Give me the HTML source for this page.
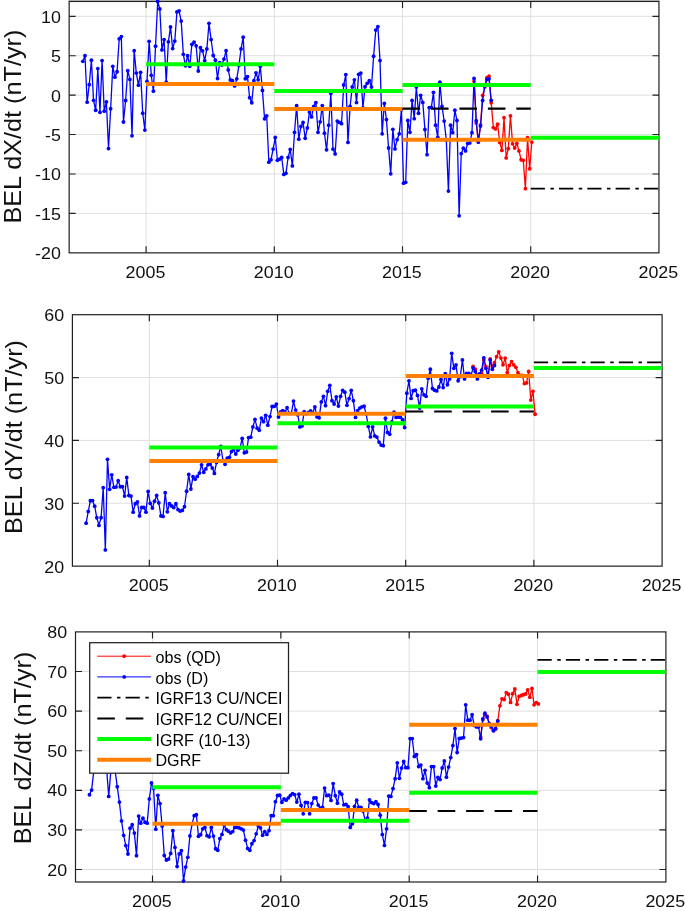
<!DOCTYPE html>
<html><head><meta charset="utf-8"><title>BEL secular variation</title>
<style>
html,body{margin:0;padding:0;background:#fff;}
svg{display:block;font-family:"Liberation Sans",sans-serif;will-change:transform;}
</style></head><body>
<svg width="685" height="911" viewBox="0 0 685 911">
<g id="panel1">
<line x1="146.08" y1="1.45" x2="146.08" y2="252.85" stroke="#dfdfdf" stroke-width="1"/>
<line x1="274.3" y1="1.45" x2="274.3" y2="252.85" stroke="#dfdfdf" stroke-width="1"/>
<line x1="402.52" y1="1.45" x2="402.52" y2="252.85" stroke="#dfdfdf" stroke-width="1"/>
<line x1="530.73" y1="1.45" x2="530.73" y2="252.85" stroke="#dfdfdf" stroke-width="1"/>
<line x1="69.15" y1="16.3" x2="658.95" y2="16.3" stroke="#dfdfdf" stroke-width="1"/>
<line x1="69.15" y1="55.71" x2="658.95" y2="55.71" stroke="#dfdfdf" stroke-width="1"/>
<line x1="69.15" y1="95.13" x2="658.95" y2="95.13" stroke="#dfdfdf" stroke-width="1"/>
<line x1="69.15" y1="134.54" x2="658.95" y2="134.54" stroke="#dfdfdf" stroke-width="1"/>
<line x1="69.15" y1="173.96" x2="658.95" y2="173.96" stroke="#dfdfdf" stroke-width="1"/>
<line x1="69.15" y1="213.38" x2="658.95" y2="213.38" stroke="#dfdfdf" stroke-width="1"/>
<rect x="68.45" y="0" width="591.2" height="1" fill="#c6c6c6"/>
<rect x="69.15" y="1.45" width="589.8" height="251.4" fill="none" stroke="#202020" stroke-width="1.2"/>
<path d="M146.08 252.85v-6.5M146.08 1.45v6.5M274.3 252.85v-6.5M274.3 1.45v6.5M402.52 252.85v-6.5M402.52 1.45v6.5M530.73 252.85v-6.5M530.73 1.45v6.5M69.15 16.3h6.5M658.95 16.3h-6.5M69.15 55.71h6.5M658.95 55.71h-6.5M69.15 95.13h6.5M658.95 95.13h-6.5M69.15 134.54h6.5M658.95 134.54h-6.5M69.15 173.96h6.5M658.95 173.96h-6.5M69.15 213.38h6.5M658.95 213.38h-6.5" stroke="#202020" stroke-width="1.15" fill="none"/>
<clipPath id="cp0"><rect x="66.95" y="-0.75" width="594.2" height="255.8"/></clipPath>
<g clip-path="url(#cp0)">
<polyline fill="none" stroke="#ff0000" stroke-width="1.3" stroke-linejoin="round" points="474.09,81.28 476.23,122.94 478.36,142 480.5,124.81 482.64,95.29 484.78,87.07 486.92,77.73 489.05,76.05 491.19,102.77 493.33,127.62 495.47,128.92 497.6,124.25 499.74,142.38 501.88,150.41 504.02,117.71 506.16,157.88 508.29,148.54 510.43,115.84 512.57,143.87 514.71,147.98 516.85,143.5 518.98,150.97 521.12,159.75 523.26,160.31 525.4,188.68 527.53,137.66 529.67,168.76 531.81,142.04"/>
<g fill="#ff0000"><circle cx="474.09" cy="81.28" r="1.9"/><circle cx="476.23" cy="122.94" r="1.9"/><circle cx="478.36" cy="142" r="1.9"/><circle cx="480.5" cy="124.81" r="1.9"/><circle cx="482.64" cy="95.29" r="1.9"/><circle cx="484.78" cy="87.07" r="1.9"/><circle cx="486.92" cy="77.73" r="1.9"/><circle cx="489.05" cy="76.05" r="1.9"/><circle cx="491.19" cy="102.77" r="1.9"/><circle cx="493.33" cy="127.62" r="1.9"/><circle cx="495.47" cy="128.92" r="1.9"/><circle cx="497.6" cy="124.25" r="1.9"/><circle cx="499.74" cy="142.38" r="1.9"/><circle cx="501.88" cy="150.41" r="1.9"/><circle cx="504.02" cy="117.71" r="1.9"/><circle cx="506.16" cy="157.88" r="1.9"/><circle cx="508.29" cy="148.54" r="1.9"/><circle cx="510.43" cy="115.84" r="1.9"/><circle cx="512.57" cy="143.87" r="1.9"/><circle cx="514.71" cy="147.98" r="1.9"/><circle cx="516.85" cy="143.5" r="1.9"/><circle cx="518.98" cy="150.97" r="1.9"/><circle cx="521.12" cy="159.75" r="1.9"/><circle cx="523.26" cy="160.31" r="1.9"/><circle cx="525.4" cy="188.68" r="1.9"/><circle cx="527.53" cy="137.66" r="1.9"/><circle cx="529.67" cy="168.76" r="1.9"/><circle cx="531.81" cy="142.04" r="1.9"/></g>
<polyline fill="none" stroke="#0000ff" stroke-width="1.3" stroke-linejoin="round" points="82.85,61.29 84.99,55.68 87.13,102.2 89.27,84.64 91.41,60.16 93.54,100.34 95.68,110.24 97.82,68.57 99.96,112.29 102.1,60.54 104.23,111.17 106.37,101.83 108.51,148.54 110.65,108.74 112.79,66.33 114.92,77.17 117.06,71.75 119.2,38.86 121.34,36.62 123.47,122.01 125.61,100.52 127.75,70.63 129.89,79.41 132.03,135.84 134.16,50.64 136.3,73.06 138.44,85.2 140.58,72.31 142.72,113.23 144.85,130.04 146.99,81.46 149.13,41.29 151.27,75.3 153.41,91.18 155.54,46.15 157.68,1.49 159.82,8.97 161.96,49.89 164.09,39.61 166.23,82.21 168.37,41.85 170.51,26.91 172.65,48.58 174.78,41.11 176.92,11.96 179.06,10.84 181.2,21.11 183.34,54.37 185.47,65.77 187.61,55.68 189.75,66.33 191.89,44.28 194.02,42.04 196.16,45.78 198.3,71 200.44,47.65 202.58,50.82 204.71,60.72 206.85,48.95 208.99,23.36 211.13,39.61 213.27,55.49 215.4,60.16 217.54,78.48 219.68,62.59 221.82,65.02 223.96,59.04 226.09,50.64 228.23,69.88 230.37,79.97 232.51,80.72 234.64,85.95 236.78,78.85 238.92,65.4 241.06,48.95 243.2,37.18 245.33,78.85 247.47,76.61 249.61,97.72 251.75,102.77 253.89,80.72 256.02,72.87 258.16,79.78 260.3,66.33 262.44,90.43 264.58,118.83 266.71,115.84 268.85,162.18 270.99,159.75 273.13,149.1 275.26,137.52 277.4,160.31 279.54,159.19 281.68,157.51 283.82,174.45 285.95,173.35 288.09,157.51 290.23,149.48 292.37,165.92 294.51,132.29 296.64,105.75 298.78,139.2 300.92,126.49 303.06,122.38 305.19,138.27 307.33,127.99 309.47,112.11 311.61,116.97 313.75,106.5 315.88,102.58 318.02,132.29 320.16,121.82 322.3,105.57 324.44,133.22 326.57,149.85 328.71,125.19 330.85,93.42 332.99,149.1 335.13,153.96 337.26,121.08 339.4,122.38 341.54,123.69 343.68,85.01 345.81,74.55 347.95,142.38 350.09,106.5 352.23,86.88 354.37,79.78 356.5,102.58 358.64,74.36 360.78,73.06 362.92,107.81 365.06,86.7 367.19,83.33 369.33,80.72 371.47,87.07 373.61,56.24 375.75,30.08 377.88,26.53 380.02,60.54 382.16,133.78 384.3,103.51 386.43,119.58 388.57,147.98 390.71,173.79 392.85,129.3 394.99,148.92 397.12,139.57 399.26,133.78 401.4,109.68 403.54,183.21 405.68,182.33 407.81,120.52 409.95,132.29 412.09,100.52 414.23,118.65 416.36,86.88 418.5,113.23 420.64,95.29 422.78,102.39 424.92,129.48 427.05,154.71 429.19,107.62 431.33,107.44 433.47,92.3 435.61,125.19 437.74,137.33 439.88,82.21 442.02,106.5 444.16,121.08 446.3,140 448.43,191.09 450.57,125.19 452.71,132.66 454.85,110.24 456.98,120.52 459.12,215.83 461.26,153.59 463.4,148.17 465.54,150.97 467.67,143.5 469.81,142.94 471.95,132.66 474.09,78.48 476.23,120.7 478.36,142 480.5,126.12 482.64,100.52 484.78,85.95 486.92,79.41 489.05,78.85 491.19,100.34"/>
<g fill="#0000ff"><circle cx="82.85" cy="61.29" r="1.9"/><circle cx="84.99" cy="55.68" r="1.9"/><circle cx="87.13" cy="102.2" r="1.9"/><circle cx="89.27" cy="84.64" r="1.9"/><circle cx="91.41" cy="60.16" r="1.9"/><circle cx="93.54" cy="100.34" r="1.9"/><circle cx="95.68" cy="110.24" r="1.9"/><circle cx="97.82" cy="68.57" r="1.9"/><circle cx="99.96" cy="112.29" r="1.9"/><circle cx="102.1" cy="60.54" r="1.9"/><circle cx="104.23" cy="111.17" r="1.9"/><circle cx="106.37" cy="101.83" r="1.9"/><circle cx="108.51" cy="148.54" r="1.9"/><circle cx="110.65" cy="108.74" r="1.9"/><circle cx="112.79" cy="66.33" r="1.9"/><circle cx="114.92" cy="77.17" r="1.9"/><circle cx="117.06" cy="71.75" r="1.9"/><circle cx="119.2" cy="38.86" r="1.9"/><circle cx="121.34" cy="36.62" r="1.9"/><circle cx="123.47" cy="122.01" r="1.9"/><circle cx="125.61" cy="100.52" r="1.9"/><circle cx="127.75" cy="70.63" r="1.9"/><circle cx="129.89" cy="79.41" r="1.9"/><circle cx="132.03" cy="135.84" r="1.9"/><circle cx="134.16" cy="50.64" r="1.9"/><circle cx="136.3" cy="73.06" r="1.9"/><circle cx="138.44" cy="85.2" r="1.9"/><circle cx="140.58" cy="72.31" r="1.9"/><circle cx="142.72" cy="113.23" r="1.9"/><circle cx="144.85" cy="130.04" r="1.9"/><circle cx="146.99" cy="81.46" r="1.9"/><circle cx="149.13" cy="41.29" r="1.9"/><circle cx="151.27" cy="75.3" r="1.9"/><circle cx="153.41" cy="91.18" r="1.9"/><circle cx="155.54" cy="46.15" r="1.9"/><circle cx="157.68" cy="1.49" r="1.9"/><circle cx="159.82" cy="8.97" r="1.9"/><circle cx="161.96" cy="49.89" r="1.9"/><circle cx="164.09" cy="39.61" r="1.9"/><circle cx="166.23" cy="82.21" r="1.9"/><circle cx="168.37" cy="41.85" r="1.9"/><circle cx="170.51" cy="26.91" r="1.9"/><circle cx="172.65" cy="48.58" r="1.9"/><circle cx="174.78" cy="41.11" r="1.9"/><circle cx="176.92" cy="11.96" r="1.9"/><circle cx="179.06" cy="10.84" r="1.9"/><circle cx="181.2" cy="21.11" r="1.9"/><circle cx="183.34" cy="54.37" r="1.9"/><circle cx="185.47" cy="65.77" r="1.9"/><circle cx="187.61" cy="55.68" r="1.9"/><circle cx="189.75" cy="66.33" r="1.9"/><circle cx="191.89" cy="44.28" r="1.9"/><circle cx="194.02" cy="42.04" r="1.9"/><circle cx="196.16" cy="45.78" r="1.9"/><circle cx="198.3" cy="71" r="1.9"/><circle cx="200.44" cy="47.65" r="1.9"/><circle cx="202.58" cy="50.82" r="1.9"/><circle cx="204.71" cy="60.72" r="1.9"/><circle cx="206.85" cy="48.95" r="1.9"/><circle cx="208.99" cy="23.36" r="1.9"/><circle cx="211.13" cy="39.61" r="1.9"/><circle cx="213.27" cy="55.49" r="1.9"/><circle cx="215.4" cy="60.16" r="1.9"/><circle cx="217.54" cy="78.48" r="1.9"/><circle cx="219.68" cy="62.59" r="1.9"/><circle cx="221.82" cy="65.02" r="1.9"/><circle cx="223.96" cy="59.04" r="1.9"/><circle cx="226.09" cy="50.64" r="1.9"/><circle cx="228.23" cy="69.88" r="1.9"/><circle cx="230.37" cy="79.97" r="1.9"/><circle cx="232.51" cy="80.72" r="1.9"/><circle cx="234.64" cy="85.95" r="1.9"/><circle cx="236.78" cy="78.85" r="1.9"/><circle cx="238.92" cy="65.4" r="1.9"/><circle cx="241.06" cy="48.95" r="1.9"/><circle cx="243.2" cy="37.18" r="1.9"/><circle cx="245.33" cy="78.85" r="1.9"/><circle cx="247.47" cy="76.61" r="1.9"/><circle cx="249.61" cy="97.72" r="1.9"/><circle cx="251.75" cy="102.77" r="1.9"/><circle cx="253.89" cy="80.72" r="1.9"/><circle cx="256.02" cy="72.87" r="1.9"/><circle cx="258.16" cy="79.78" r="1.9"/><circle cx="260.3" cy="66.33" r="1.9"/><circle cx="262.44" cy="90.43" r="1.9"/><circle cx="264.58" cy="118.83" r="1.9"/><circle cx="266.71" cy="115.84" r="1.9"/><circle cx="268.85" cy="162.18" r="1.9"/><circle cx="270.99" cy="159.75" r="1.9"/><circle cx="273.13" cy="149.1" r="1.9"/><circle cx="275.26" cy="137.52" r="1.9"/><circle cx="277.4" cy="160.31" r="1.9"/><circle cx="279.54" cy="159.19" r="1.9"/><circle cx="281.68" cy="157.51" r="1.9"/><circle cx="283.82" cy="174.45" r="1.9"/><circle cx="285.95" cy="173.35" r="1.9"/><circle cx="288.09" cy="157.51" r="1.9"/><circle cx="290.23" cy="149.48" r="1.9"/><circle cx="292.37" cy="165.92" r="1.9"/><circle cx="294.51" cy="132.29" r="1.9"/><circle cx="296.64" cy="105.75" r="1.9"/><circle cx="298.78" cy="139.2" r="1.9"/><circle cx="300.92" cy="126.49" r="1.9"/><circle cx="303.06" cy="122.38" r="1.9"/><circle cx="305.19" cy="138.27" r="1.9"/><circle cx="307.33" cy="127.99" r="1.9"/><circle cx="309.47" cy="112.11" r="1.9"/><circle cx="311.61" cy="116.97" r="1.9"/><circle cx="313.75" cy="106.5" r="1.9"/><circle cx="315.88" cy="102.58" r="1.9"/><circle cx="318.02" cy="132.29" r="1.9"/><circle cx="320.16" cy="121.82" r="1.9"/><circle cx="322.3" cy="105.57" r="1.9"/><circle cx="324.44" cy="133.22" r="1.9"/><circle cx="326.57" cy="149.85" r="1.9"/><circle cx="328.71" cy="125.19" r="1.9"/><circle cx="330.85" cy="93.42" r="1.9"/><circle cx="332.99" cy="149.1" r="1.9"/><circle cx="335.13" cy="153.96" r="1.9"/><circle cx="337.26" cy="121.08" r="1.9"/><circle cx="339.4" cy="122.38" r="1.9"/><circle cx="341.54" cy="123.69" r="1.9"/><circle cx="343.68" cy="85.01" r="1.9"/><circle cx="345.81" cy="74.55" r="1.9"/><circle cx="347.95" cy="142.38" r="1.9"/><circle cx="350.09" cy="106.5" r="1.9"/><circle cx="352.23" cy="86.88" r="1.9"/><circle cx="354.37" cy="79.78" r="1.9"/><circle cx="356.5" cy="102.58" r="1.9"/><circle cx="358.64" cy="74.36" r="1.9"/><circle cx="360.78" cy="73.06" r="1.9"/><circle cx="362.92" cy="107.81" r="1.9"/><circle cx="365.06" cy="86.7" r="1.9"/><circle cx="367.19" cy="83.33" r="1.9"/><circle cx="369.33" cy="80.72" r="1.9"/><circle cx="371.47" cy="87.07" r="1.9"/><circle cx="373.61" cy="56.24" r="1.9"/><circle cx="375.75" cy="30.08" r="1.9"/><circle cx="377.88" cy="26.53" r="1.9"/><circle cx="380.02" cy="60.54" r="1.9"/><circle cx="382.16" cy="133.78" r="1.9"/><circle cx="384.3" cy="103.51" r="1.9"/><circle cx="386.43" cy="119.58" r="1.9"/><circle cx="388.57" cy="147.98" r="1.9"/><circle cx="390.71" cy="173.79" r="1.9"/><circle cx="392.85" cy="129.3" r="1.9"/><circle cx="394.99" cy="148.92" r="1.9"/><circle cx="397.12" cy="139.57" r="1.9"/><circle cx="399.26" cy="133.78" r="1.9"/><circle cx="401.4" cy="109.68" r="1.9"/><circle cx="403.54" cy="183.21" r="1.9"/><circle cx="405.68" cy="182.33" r="1.9"/><circle cx="407.81" cy="120.52" r="1.9"/><circle cx="409.95" cy="132.29" r="1.9"/><circle cx="412.09" cy="100.52" r="1.9"/><circle cx="414.23" cy="118.65" r="1.9"/><circle cx="416.36" cy="86.88" r="1.9"/><circle cx="418.5" cy="113.23" r="1.9"/><circle cx="420.64" cy="95.29" r="1.9"/><circle cx="422.78" cy="102.39" r="1.9"/><circle cx="424.92" cy="129.48" r="1.9"/><circle cx="427.05" cy="154.71" r="1.9"/><circle cx="429.19" cy="107.62" r="1.9"/><circle cx="431.33" cy="107.44" r="1.9"/><circle cx="433.47" cy="92.3" r="1.9"/><circle cx="435.61" cy="125.19" r="1.9"/><circle cx="437.74" cy="137.33" r="1.9"/><circle cx="439.88" cy="82.21" r="1.9"/><circle cx="442.02" cy="106.5" r="1.9"/><circle cx="444.16" cy="121.08" r="1.9"/><circle cx="446.3" cy="140" r="1.9"/><circle cx="448.43" cy="191.09" r="1.9"/><circle cx="450.57" cy="125.19" r="1.9"/><circle cx="452.71" cy="132.66" r="1.9"/><circle cx="454.85" cy="110.24" r="1.9"/><circle cx="456.98" cy="120.52" r="1.9"/><circle cx="459.12" cy="215.83" r="1.9"/><circle cx="461.26" cy="153.59" r="1.9"/><circle cx="463.4" cy="148.17" r="1.9"/><circle cx="465.54" cy="150.97" r="1.9"/><circle cx="467.67" cy="143.5" r="1.9"/><circle cx="469.81" cy="142.94" r="1.9"/><circle cx="471.95" cy="132.66" r="1.9"/><circle cx="474.09" cy="78.48" r="1.9"/><circle cx="476.23" cy="120.7" r="1.9"/><circle cx="478.36" cy="142" r="1.9"/><circle cx="480.5" cy="126.12" r="1.9"/><circle cx="482.64" cy="100.52" r="1.9"/><circle cx="484.78" cy="85.95" r="1.9"/><circle cx="486.92" cy="79.41" r="1.9"/><circle cx="489.05" cy="78.85" r="1.9"/><circle cx="491.19" cy="100.34" r="1.9"/></g>
<line x1="146.08" y1="64.3" x2="274.3" y2="64.3" stroke="#00ff00" stroke-width="4"/>
<line x1="146.08" y1="84.1" x2="274.3" y2="84.1" stroke="#ff8000" stroke-width="4"/>
<line x1="274.3" y1="91" x2="402.52" y2="91" stroke="#00ff00" stroke-width="4"/>
<line x1="274.3" y1="108.9" x2="402.52" y2="108.9" stroke="#ff8000" stroke-width="4"/>
<line x1="402.52" y1="108.6" x2="530.73" y2="108.6" stroke="#000" stroke-width="2.05" stroke-dasharray="17.6 10.85"/>
<line x1="402.52" y1="85" x2="530.73" y2="85" stroke="#00ff00" stroke-width="4"/>
<line x1="402.52" y1="139.8" x2="530.73" y2="139.8" stroke="#ff8000" stroke-width="4"/>
<line x1="530.73" y1="188.7" x2="658.95" y2="188.7" stroke="#000" stroke-width="1.8" stroke-dasharray="14.2 5.5 3.5 5.1"/>
<line x1="530.73" y1="137.7" x2="658.95" y2="137.7" stroke="#00ff00" stroke-width="4"/>
</g>
<text transform="translate(145.48,278.05) scale(1.07,1)" font-size="16.7" text-anchor="middle" fill="#111111">2005</text>
<text transform="translate(273.7,278.05) scale(1.07,1)" font-size="16.7" text-anchor="middle" fill="#111111">2010</text>
<text transform="translate(401.92,278.05) scale(1.07,1)" font-size="16.7" text-anchor="middle" fill="#111111">2015</text>
<text transform="translate(530.13,278.05) scale(1.07,1)" font-size="16.7" text-anchor="middle" fill="#111111">2020</text>
<text transform="translate(658.35,278.05) scale(1.07,1)" font-size="16.7" text-anchor="middle" fill="#111111">2025</text>
<text transform="translate(60.85,22.8) scale(1.07,1)" font-size="16.7" text-anchor="end" fill="#111111">10</text>
<text transform="translate(60.85,62.21) scale(1.07,1)" font-size="16.7" text-anchor="end" fill="#111111">5</text>
<text transform="translate(60.85,101.63) scale(1.07,1)" font-size="16.7" text-anchor="end" fill="#111111">0</text>
<text transform="translate(60.85,141.04) scale(1.07,1)" font-size="16.7" text-anchor="end" fill="#111111">-5</text>
<text transform="translate(60.85,180.46) scale(1.07,1)" font-size="16.7" text-anchor="end" fill="#111111">-10</text>
<text transform="translate(60.85,219.88) scale(1.07,1)" font-size="16.7" text-anchor="end" fill="#111111">-15</text>
<text transform="translate(60.85,259.29) scale(1.07,1)" font-size="16.7" text-anchor="end" fill="#111111">-20</text>
<text transform="translate(21.2,126.6) rotate(-90) scale(1.052,1)" font-size="24.0" text-anchor="middle" fill="#111111">BEL dX/dt (nT/yr)</text>
</g>
<g id="panel2">
<line x1="149.32" y1="314.7" x2="149.32" y2="566.15" stroke="#dfdfdf" stroke-width="1"/>
<line x1="277.51" y1="314.7" x2="277.51" y2="566.15" stroke="#dfdfdf" stroke-width="1"/>
<line x1="405.71" y1="314.7" x2="405.71" y2="566.15" stroke="#dfdfdf" stroke-width="1"/>
<line x1="533.9" y1="314.7" x2="533.9" y2="566.15" stroke="#dfdfdf" stroke-width="1"/>
<line x1="72.4" y1="377.55" x2="662.1" y2="377.55" stroke="#dfdfdf" stroke-width="1"/>
<line x1="72.4" y1="440.42" x2="662.1" y2="440.42" stroke="#dfdfdf" stroke-width="1"/>
<line x1="72.4" y1="503.28" x2="662.1" y2="503.28" stroke="#dfdfdf" stroke-width="1"/>
<rect x="72.4" y="314.7" width="589.7" height="251.45" fill="none" stroke="#202020" stroke-width="1.2"/>
<path d="M149.32 566.15v-6.5M149.32 314.7v6.5M277.51 566.15v-6.5M277.51 314.7v6.5M405.71 566.15v-6.5M405.71 314.7v6.5M533.9 566.15v-6.5M533.9 314.7v6.5M72.4 377.55h6.5M662.1 377.55h-6.5M72.4 440.42h6.5M662.1 440.42h-6.5M72.4 503.28h6.5M662.1 503.28h-6.5" stroke="#202020" stroke-width="1.15" fill="none"/>
<clipPath id="cp1"><rect x="70.2" y="312.5" width="594.1" height="255.85"/></clipPath>
<g clip-path="url(#cp1)">
<polyline fill="none" stroke="#ff0000" stroke-width="1.3" stroke-linejoin="round" points="473.09,366.43 475.23,369.24 477.37,374.84 479.51,374.84 481.65,373.35 483.79,359.9 485.92,366.43 488.06,376.71 490.2,358.96 492.34,366.43 494.48,362.7 496.61,356.72 498.75,351.86 500.89,358.03 503.03,364.75 505.17,358.03 507.3,372.6 509.44,365.5 511.58,361.76 513.72,364.94 515.86,367.37 517.99,372.6 520.13,375.4 522.27,375.4 524.41,383.62 526.55,382.88 528.68,371.48 530.82,400.07 532.96,391.29 535.1,414.27"/>
<g fill="#ff0000"><circle cx="473.09" cy="366.43" r="1.9"/><circle cx="475.23" cy="369.24" r="1.9"/><circle cx="477.37" cy="374.84" r="1.9"/><circle cx="479.51" cy="374.84" r="1.9"/><circle cx="481.65" cy="373.35" r="1.9"/><circle cx="483.79" cy="359.9" r="1.9"/><circle cx="485.92" cy="366.43" r="1.9"/><circle cx="488.06" cy="376.71" r="1.9"/><circle cx="490.2" cy="358.96" r="1.9"/><circle cx="492.34" cy="366.43" r="1.9"/><circle cx="494.48" cy="362.7" r="1.9"/><circle cx="496.61" cy="356.72" r="1.9"/><circle cx="498.75" cy="351.86" r="1.9"/><circle cx="500.89" cy="358.03" r="1.9"/><circle cx="503.03" cy="364.75" r="1.9"/><circle cx="505.17" cy="358.03" r="1.9"/><circle cx="507.3" cy="372.6" r="1.9"/><circle cx="509.44" cy="365.5" r="1.9"/><circle cx="511.58" cy="361.76" r="1.9"/><circle cx="513.72" cy="364.94" r="1.9"/><circle cx="515.86" cy="367.37" r="1.9"/><circle cx="517.99" cy="372.6" r="1.9"/><circle cx="520.13" cy="375.4" r="1.9"/><circle cx="522.27" cy="375.4" r="1.9"/><circle cx="524.41" cy="383.62" r="1.9"/><circle cx="526.55" cy="382.88" r="1.9"/><circle cx="528.68" cy="371.48" r="1.9"/><circle cx="530.82" cy="400.07" r="1.9"/><circle cx="532.96" cy="391.29" r="1.9"/><circle cx="535.1" cy="414.27" r="1.9"/></g>
<polyline fill="none" stroke="#0000ff" stroke-width="1.3" stroke-linejoin="round" points="86.11,523.18 88.25,511.41 90.38,500.75 92.52,500.57 94.66,506.17 96.8,517.76 98.94,525.42 101.07,517.76 103.21,487.68 105.35,549.9 107.49,459.28 109.63,489.36 111.76,474.78 113.9,487.3 116.04,487.12 118.18,480.76 120.32,486.74 122.45,486.55 124.59,496.08 126.73,477.4 128.87,495.52 131.01,496.08 133.14,512.15 135.28,503.74 137.42,501.88 139.56,515.89 141.7,507.48 143.83,507.48 145.97,512.15 148.11,491.41 150.25,503.37 152.39,508.04 154.53,501.13 156.66,495.52 158.8,502.81 160.94,515.89 163.08,516.45 165.22,492.72 167.35,511.78 169.49,503.74 171.63,505.99 173.77,507.48 175.91,503.74 178.04,509.72 180.18,511.03 182.32,510.47 184.46,506.73 186.6,491.23 188.73,474.41 190.87,488.98 193.01,476.65 195.15,479.2 197.29,476.4 199.42,473.03 201.56,464.81 203.7,472.29 205.84,468.92 207.98,464.81 210.11,464.25 212.25,467.99 214.39,473.41 216.53,462.38 218.67,454.54 220.8,446.5 222.94,460.52 225.08,464.25 227.22,458.09 229.36,457.34 231.5,451.55 233.63,449.49 235.77,453.98 237.91,450.24 240.05,448 242.19,438.47 244.32,452.86 246.46,452.11 248.6,437.53 250.74,437.16 252.88,426.88 255.01,419.41 257.15,428.19 259.29,430.25 261.43,418.1 263.57,421.65 265.7,415.3 267.84,425.2 269.98,416.61 272.12,406.52 274.26,406.33 276.39,404.09 278.53,416.98 280.67,411.94 282.81,410.63 284.95,411.94 287.08,407.64 289.22,413.43 291.36,413.43 293.5,401.1 295.64,410.07 297.77,414.74 299.91,426.88 302.05,425.95 304.19,411.56 306.33,413.8 308.46,412.31 310.6,411 312.74,412.87 314.88,406.98 317.02,416.88 319.16,417.82 321.29,401.94 323.43,396.33 325.57,405.67 327.71,391.29 329.85,385.31 331.98,400.63 334.12,403.99 336.26,396.89 338.4,406.05 340.54,396.33 342.67,390.35 344.81,392.22 346.95,405.3 349.09,398.57 351.23,390.35 353.36,400.63 355.5,417.44 357.64,410.72 359.78,408.1 361.92,406.79 364.05,406.23 366.19,414.08 368.33,426.41 370.47,436.88 372.61,426.79 374.74,435.94 376.88,437.06 379.02,442.11 381.16,445.1 383.3,445.66 385.43,418.19 387.57,432.39 389.71,434.26 391.85,421.93 393.99,412.21 396.13,417.44 398.26,417.07 400.4,417.26 402.54,419.69 404.68,427.53 406.82,393.15 408.95,380.82 411.09,398.39 413.23,390.72 415.37,390.16 417.51,395.4 419.64,408.1 421.78,388.86 423.92,394.84 426.06,396.33 428.2,378.21 430.33,369.24 432.47,388.48 434.61,390.16 436.75,390.91 438.89,386.99 441.02,379.51 443.16,387.55 445.3,373.72 447.44,384.75 449.58,378.95 451.71,353.36 453.85,368.3 455.99,364.94 458.13,380.82 460.27,376.71 462.4,359.9 464.54,378.95 466.68,373.35 468.82,373.35 470.96,375.78 473.09,367.93 475.23,371.48 477.37,378.95 479.51,373.91 481.65,370.17 483.79,357.84 485.92,368.3 488.06,377.27 490.2,359.9 492.34,369.24 494.48,365.5"/>
<g fill="#0000ff"><circle cx="86.11" cy="523.18" r="1.9"/><circle cx="88.25" cy="511.41" r="1.9"/><circle cx="90.38" cy="500.75" r="1.9"/><circle cx="92.52" cy="500.57" r="1.9"/><circle cx="94.66" cy="506.17" r="1.9"/><circle cx="96.8" cy="517.76" r="1.9"/><circle cx="98.94" cy="525.42" r="1.9"/><circle cx="101.07" cy="517.76" r="1.9"/><circle cx="103.21" cy="487.68" r="1.9"/><circle cx="105.35" cy="549.9" r="1.9"/><circle cx="107.49" cy="459.28" r="1.9"/><circle cx="109.63" cy="489.36" r="1.9"/><circle cx="111.76" cy="474.78" r="1.9"/><circle cx="113.9" cy="487.3" r="1.9"/><circle cx="116.04" cy="487.12" r="1.9"/><circle cx="118.18" cy="480.76" r="1.9"/><circle cx="120.32" cy="486.74" r="1.9"/><circle cx="122.45" cy="486.55" r="1.9"/><circle cx="124.59" cy="496.08" r="1.9"/><circle cx="126.73" cy="477.4" r="1.9"/><circle cx="128.87" cy="495.52" r="1.9"/><circle cx="131.01" cy="496.08" r="1.9"/><circle cx="133.14" cy="512.15" r="1.9"/><circle cx="135.28" cy="503.74" r="1.9"/><circle cx="137.42" cy="501.88" r="1.9"/><circle cx="139.56" cy="515.89" r="1.9"/><circle cx="141.7" cy="507.48" r="1.9"/><circle cx="143.83" cy="507.48" r="1.9"/><circle cx="145.97" cy="512.15" r="1.9"/><circle cx="148.11" cy="491.41" r="1.9"/><circle cx="150.25" cy="503.37" r="1.9"/><circle cx="152.39" cy="508.04" r="1.9"/><circle cx="154.53" cy="501.13" r="1.9"/><circle cx="156.66" cy="495.52" r="1.9"/><circle cx="158.8" cy="502.81" r="1.9"/><circle cx="160.94" cy="515.89" r="1.9"/><circle cx="163.08" cy="516.45" r="1.9"/><circle cx="165.22" cy="492.72" r="1.9"/><circle cx="167.35" cy="511.78" r="1.9"/><circle cx="169.49" cy="503.74" r="1.9"/><circle cx="171.63" cy="505.99" r="1.9"/><circle cx="173.77" cy="507.48" r="1.9"/><circle cx="175.91" cy="503.74" r="1.9"/><circle cx="178.04" cy="509.72" r="1.9"/><circle cx="180.18" cy="511.03" r="1.9"/><circle cx="182.32" cy="510.47" r="1.9"/><circle cx="184.46" cy="506.73" r="1.9"/><circle cx="186.6" cy="491.23" r="1.9"/><circle cx="188.73" cy="474.41" r="1.9"/><circle cx="190.87" cy="488.98" r="1.9"/><circle cx="193.01" cy="476.65" r="1.9"/><circle cx="195.15" cy="479.2" r="1.9"/><circle cx="197.29" cy="476.4" r="1.9"/><circle cx="199.42" cy="473.03" r="1.9"/><circle cx="201.56" cy="464.81" r="1.9"/><circle cx="203.7" cy="472.29" r="1.9"/><circle cx="205.84" cy="468.92" r="1.9"/><circle cx="207.98" cy="464.81" r="1.9"/><circle cx="210.11" cy="464.25" r="1.9"/><circle cx="212.25" cy="467.99" r="1.9"/><circle cx="214.39" cy="473.41" r="1.9"/><circle cx="216.53" cy="462.38" r="1.9"/><circle cx="218.67" cy="454.54" r="1.9"/><circle cx="220.8" cy="446.5" r="1.9"/><circle cx="222.94" cy="460.52" r="1.9"/><circle cx="225.08" cy="464.25" r="1.9"/><circle cx="227.22" cy="458.09" r="1.9"/><circle cx="229.36" cy="457.34" r="1.9"/><circle cx="231.5" cy="451.55" r="1.9"/><circle cx="233.63" cy="449.49" r="1.9"/><circle cx="235.77" cy="453.98" r="1.9"/><circle cx="237.91" cy="450.24" r="1.9"/><circle cx="240.05" cy="448" r="1.9"/><circle cx="242.19" cy="438.47" r="1.9"/><circle cx="244.32" cy="452.86" r="1.9"/><circle cx="246.46" cy="452.11" r="1.9"/><circle cx="248.6" cy="437.53" r="1.9"/><circle cx="250.74" cy="437.16" r="1.9"/><circle cx="252.88" cy="426.88" r="1.9"/><circle cx="255.01" cy="419.41" r="1.9"/><circle cx="257.15" cy="428.19" r="1.9"/><circle cx="259.29" cy="430.25" r="1.9"/><circle cx="261.43" cy="418.1" r="1.9"/><circle cx="263.57" cy="421.65" r="1.9"/><circle cx="265.7" cy="415.3" r="1.9"/><circle cx="267.84" cy="425.2" r="1.9"/><circle cx="269.98" cy="416.61" r="1.9"/><circle cx="272.12" cy="406.52" r="1.9"/><circle cx="274.26" cy="406.33" r="1.9"/><circle cx="276.39" cy="404.09" r="1.9"/><circle cx="278.53" cy="416.98" r="1.9"/><circle cx="280.67" cy="411.94" r="1.9"/><circle cx="282.81" cy="410.63" r="1.9"/><circle cx="284.95" cy="411.94" r="1.9"/><circle cx="287.08" cy="407.64" r="1.9"/><circle cx="289.22" cy="413.43" r="1.9"/><circle cx="291.36" cy="413.43" r="1.9"/><circle cx="293.5" cy="401.1" r="1.9"/><circle cx="295.64" cy="410.07" r="1.9"/><circle cx="297.77" cy="414.74" r="1.9"/><circle cx="299.91" cy="426.88" r="1.9"/><circle cx="302.05" cy="425.95" r="1.9"/><circle cx="304.19" cy="411.56" r="1.9"/><circle cx="306.33" cy="413.8" r="1.9"/><circle cx="308.46" cy="412.31" r="1.9"/><circle cx="310.6" cy="411" r="1.9"/><circle cx="312.74" cy="412.87" r="1.9"/><circle cx="314.88" cy="406.98" r="1.9"/><circle cx="317.02" cy="416.88" r="1.9"/><circle cx="319.16" cy="417.82" r="1.9"/><circle cx="321.29" cy="401.94" r="1.9"/><circle cx="323.43" cy="396.33" r="1.9"/><circle cx="325.57" cy="405.67" r="1.9"/><circle cx="327.71" cy="391.29" r="1.9"/><circle cx="329.85" cy="385.31" r="1.9"/><circle cx="331.98" cy="400.63" r="1.9"/><circle cx="334.12" cy="403.99" r="1.9"/><circle cx="336.26" cy="396.89" r="1.9"/><circle cx="338.4" cy="406.05" r="1.9"/><circle cx="340.54" cy="396.33" r="1.9"/><circle cx="342.67" cy="390.35" r="1.9"/><circle cx="344.81" cy="392.22" r="1.9"/><circle cx="346.95" cy="405.3" r="1.9"/><circle cx="349.09" cy="398.57" r="1.9"/><circle cx="351.23" cy="390.35" r="1.9"/><circle cx="353.36" cy="400.63" r="1.9"/><circle cx="355.5" cy="417.44" r="1.9"/><circle cx="357.64" cy="410.72" r="1.9"/><circle cx="359.78" cy="408.1" r="1.9"/><circle cx="361.92" cy="406.79" r="1.9"/><circle cx="364.05" cy="406.23" r="1.9"/><circle cx="366.19" cy="414.08" r="1.9"/><circle cx="368.33" cy="426.41" r="1.9"/><circle cx="370.47" cy="436.88" r="1.9"/><circle cx="372.61" cy="426.79" r="1.9"/><circle cx="374.74" cy="435.94" r="1.9"/><circle cx="376.88" cy="437.06" r="1.9"/><circle cx="379.02" cy="442.11" r="1.9"/><circle cx="381.16" cy="445.1" r="1.9"/><circle cx="383.3" cy="445.66" r="1.9"/><circle cx="385.43" cy="418.19" r="1.9"/><circle cx="387.57" cy="432.39" r="1.9"/><circle cx="389.71" cy="434.26" r="1.9"/><circle cx="391.85" cy="421.93" r="1.9"/><circle cx="393.99" cy="412.21" r="1.9"/><circle cx="396.13" cy="417.44" r="1.9"/><circle cx="398.26" cy="417.07" r="1.9"/><circle cx="400.4" cy="417.26" r="1.9"/><circle cx="402.54" cy="419.69" r="1.9"/><circle cx="404.68" cy="427.53" r="1.9"/><circle cx="406.82" cy="393.15" r="1.9"/><circle cx="408.95" cy="380.82" r="1.9"/><circle cx="411.09" cy="398.39" r="1.9"/><circle cx="413.23" cy="390.72" r="1.9"/><circle cx="415.37" cy="390.16" r="1.9"/><circle cx="417.51" cy="395.4" r="1.9"/><circle cx="419.64" cy="408.1" r="1.9"/><circle cx="421.78" cy="388.86" r="1.9"/><circle cx="423.92" cy="394.84" r="1.9"/><circle cx="426.06" cy="396.33" r="1.9"/><circle cx="428.2" cy="378.21" r="1.9"/><circle cx="430.33" cy="369.24" r="1.9"/><circle cx="432.47" cy="388.48" r="1.9"/><circle cx="434.61" cy="390.16" r="1.9"/><circle cx="436.75" cy="390.91" r="1.9"/><circle cx="438.89" cy="386.99" r="1.9"/><circle cx="441.02" cy="379.51" r="1.9"/><circle cx="443.16" cy="387.55" r="1.9"/><circle cx="445.3" cy="373.72" r="1.9"/><circle cx="447.44" cy="384.75" r="1.9"/><circle cx="449.58" cy="378.95" r="1.9"/><circle cx="451.71" cy="353.36" r="1.9"/><circle cx="453.85" cy="368.3" r="1.9"/><circle cx="455.99" cy="364.94" r="1.9"/><circle cx="458.13" cy="380.82" r="1.9"/><circle cx="460.27" cy="376.71" r="1.9"/><circle cx="462.4" cy="359.9" r="1.9"/><circle cx="464.54" cy="378.95" r="1.9"/><circle cx="466.68" cy="373.35" r="1.9"/><circle cx="468.82" cy="373.35" r="1.9"/><circle cx="470.96" cy="375.78" r="1.9"/><circle cx="473.09" cy="367.93" r="1.9"/><circle cx="475.23" cy="371.48" r="1.9"/><circle cx="477.37" cy="378.95" r="1.9"/><circle cx="479.51" cy="373.91" r="1.9"/><circle cx="481.65" cy="370.17" r="1.9"/><circle cx="483.79" cy="357.84" r="1.9"/><circle cx="485.92" cy="368.3" r="1.9"/><circle cx="488.06" cy="377.27" r="1.9"/><circle cx="490.2" cy="359.9" r="1.9"/><circle cx="492.34" cy="369.24" r="1.9"/><circle cx="494.48" cy="365.5" r="1.9"/></g>
<line x1="149.32" y1="447.4" x2="277.51" y2="447.4" stroke="#00ff00" stroke-width="4"/>
<line x1="149.32" y1="460.9" x2="277.51" y2="460.9" stroke="#ff8000" stroke-width="4"/>
<line x1="277.51" y1="423.2" x2="405.71" y2="423.2" stroke="#00ff00" stroke-width="4"/>
<line x1="277.51" y1="413.8" x2="405.71" y2="413.8" stroke="#ff8000" stroke-width="4"/>
<line x1="405.71" y1="411.5" x2="533.9" y2="411.5" stroke="#000" stroke-width="2.05" stroke-dasharray="17.6 10.85"/>
<line x1="405.71" y1="406.6" x2="533.9" y2="406.6" stroke="#00ff00" stroke-width="4"/>
<line x1="405.71" y1="376" x2="533.9" y2="376" stroke="#ff8000" stroke-width="4"/>
<line x1="533.9" y1="362.3" x2="662.1" y2="362.3" stroke="#000" stroke-width="1.8" stroke-dasharray="14.2 5.5 3.5 5.1"/>
<line x1="533.9" y1="368.1" x2="662.1" y2="368.1" stroke="#00ff00" stroke-width="4"/>
</g>
<text transform="translate(148.72,591.25) scale(1.07,1)" font-size="16.7" text-anchor="middle" fill="#111111">2005</text>
<text transform="translate(276.91,591.25) scale(1.07,1)" font-size="16.7" text-anchor="middle" fill="#111111">2010</text>
<text transform="translate(405.11,591.25) scale(1.07,1)" font-size="16.7" text-anchor="middle" fill="#111111">2015</text>
<text transform="translate(533.3,591.25) scale(1.07,1)" font-size="16.7" text-anchor="middle" fill="#111111">2020</text>
<text transform="translate(661.5,591.25) scale(1.07,1)" font-size="16.7" text-anchor="middle" fill="#111111">2025</text>
<text transform="translate(64.1,321.19) scale(1.07,1)" font-size="16.7" text-anchor="end" fill="#111111">60</text>
<text transform="translate(64.1,384.05) scale(1.07,1)" font-size="16.7" text-anchor="end" fill="#111111">50</text>
<text transform="translate(64.1,446.92) scale(1.07,1)" font-size="16.7" text-anchor="end" fill="#111111">40</text>
<text transform="translate(64.1,509.78) scale(1.07,1)" font-size="16.7" text-anchor="end" fill="#111111">30</text>
<text transform="translate(64.1,572.65) scale(1.07,1)" font-size="16.7" text-anchor="end" fill="#111111">20</text>
<text transform="translate(22.3,437.0) rotate(-90) scale(1.052,1)" font-size="24.0" text-anchor="middle" fill="#111111">BEL dY/dt (nT/yr)</text>
</g>
<g id="panel3">
<line x1="152.51" y1="631.9" x2="152.51" y2="882" stroke="#dfdfdf" stroke-width="1"/>
<line x1="280.86" y1="631.9" x2="280.86" y2="882" stroke="#dfdfdf" stroke-width="1"/>
<line x1="409.2" y1="631.9" x2="409.2" y2="882" stroke="#dfdfdf" stroke-width="1"/>
<line x1="537.55" y1="631.9" x2="537.55" y2="882" stroke="#dfdfdf" stroke-width="1"/>
<line x1="75.5" y1="671.5" x2="665.9" y2="671.5" stroke="#dfdfdf" stroke-width="1"/>
<line x1="75.5" y1="711.1" x2="665.9" y2="711.1" stroke="#dfdfdf" stroke-width="1"/>
<line x1="75.5" y1="750.7" x2="665.9" y2="750.7" stroke="#dfdfdf" stroke-width="1"/>
<line x1="75.5" y1="790.3" x2="665.9" y2="790.3" stroke="#dfdfdf" stroke-width="1"/>
<line x1="75.5" y1="829.9" x2="665.9" y2="829.9" stroke="#dfdfdf" stroke-width="1"/>
<line x1="75.5" y1="869.5" x2="665.9" y2="869.5" stroke="#dfdfdf" stroke-width="1"/>
<rect x="75.5" y="631.9" width="590.4" height="250.1" fill="none" stroke="#202020" stroke-width="1.2"/>
<path d="M152.51 882v-6.5M152.51 631.9v6.5M280.86 882v-6.5M280.86 631.9v6.5M409.2 882v-6.5M409.2 631.9v6.5M537.55 882v-6.5M537.55 631.9v6.5M75.5 671.5h6.5M665.9 671.5h-6.5M75.5 711.1h6.5M665.9 711.1h-6.5M75.5 750.7h6.5M665.9 750.7h-6.5M75.5 790.3h6.5M665.9 790.3h-6.5M75.5 829.9h6.5M665.9 829.9h-6.5M75.5 869.5h6.5M665.9 869.5h-6.5" stroke="#202020" stroke-width="1.15" fill="none"/>
<clipPath id="cp2"><rect x="73.3" y="629.7" width="594.8" height="254.5"/></clipPath>
<g clip-path="url(#cp2)">
<polyline fill="none" stroke="#ff0000" stroke-width="1.3" stroke-linejoin="round" points="480.66,736.98 482.8,719.79 484.93,714.19 487.07,716.05 489.21,723.53 491.35,727.64 493.48,730.63 495.62,728.76 497.76,720.72 499.9,705.78 502.03,698.86 504.17,699.61 506.31,692.7 508.45,694.19 510.59,702.41 512.72,693.63 514.86,688.96 517,704.28 519.14,696.43 521.27,695.5 523.41,694.75 525.55,694.01 527.69,689.9 529.82,697.37 531.96,688.4 534.1,704.84 536.24,702.6 538.37,703.91"/>
<g fill="#ff0000"><circle cx="480.66" cy="736.98" r="1.9"/><circle cx="482.8" cy="719.79" r="1.9"/><circle cx="484.93" cy="714.19" r="1.9"/><circle cx="487.07" cy="716.05" r="1.9"/><circle cx="489.21" cy="723.53" r="1.9"/><circle cx="491.35" cy="727.64" r="1.9"/><circle cx="493.48" cy="730.63" r="1.9"/><circle cx="495.62" cy="728.76" r="1.9"/><circle cx="497.76" cy="720.72" r="1.9"/><circle cx="499.9" cy="705.78" r="1.9"/><circle cx="502.03" cy="698.86" r="1.9"/><circle cx="504.17" cy="699.61" r="1.9"/><circle cx="506.31" cy="692.7" r="1.9"/><circle cx="508.45" cy="694.19" r="1.9"/><circle cx="510.59" cy="702.41" r="1.9"/><circle cx="512.72" cy="693.63" r="1.9"/><circle cx="514.86" cy="688.96" r="1.9"/><circle cx="517" cy="704.28" r="1.9"/><circle cx="519.14" cy="696.43" r="1.9"/><circle cx="521.27" cy="695.5" r="1.9"/><circle cx="523.41" cy="694.75" r="1.9"/><circle cx="525.55" cy="694.01" r="1.9"/><circle cx="527.69" cy="689.9" r="1.9"/><circle cx="529.82" cy="697.37" r="1.9"/><circle cx="531.96" cy="688.4" r="1.9"/><circle cx="534.1" cy="704.84" r="1.9"/><circle cx="536.24" cy="702.6" r="1.9"/><circle cx="538.37" cy="703.91" r="1.9"/></g>
<polyline fill="none" stroke="#0000ff" stroke-width="1.3" stroke-linejoin="round" points="89.47,794.77 91.61,790.1 93.75,771.42 95.88,758.71 98.02,754.97 100.16,760.58 102.3,756.84 104.43,758.71 106.57,768.05 108.71,796.45 110.85,770.86 112.98,758.71 115.12,770.86 117.26,786.74 119.4,802.06 121.53,820.93 123.67,835.32 125.81,845.59 127.95,854 130.08,828.22 132.22,824.67 134.36,833.08 136.5,855.68 138.64,816.07 140.77,823.17 142.91,818.13 145.05,822.24 147.19,823.17 149.32,798.88 151.46,783 153.6,788.61 155.74,829.15 157.87,795.33 160.01,803.55 162.15,825.98 164.29,855.5 166.42,859.98 168.56,859.05 170.7,853.44 172.84,830.65 174.98,847.46 177.11,866.52 179.25,854 181.39,850.64 183.53,881 185.66,867.08 187.8,857.37 189.94,835.88 192.08,824.11 194.21,815.7 196.35,814.77 198.49,836.25 200.63,834.76 202.76,828.78 204.9,827.47 207.04,835.69 209.18,836.81 211.32,827.47 213.45,836.07 215.59,848.77 217.73,850.27 219.87,838.68 222,834.38 224.14,825.04 226.28,829.71 228.42,831.21 230.55,832.89 232.69,831.58 234.83,827.47 236.97,827.28 239.1,827.84 241.24,828.78 243.38,830.09 245.52,840.18 247.66,848.4 249.79,850.27 251.93,843.73 254.07,840.55 256.21,833.82 258.34,825.98 260.48,827.84 262.62,835.32 264.76,831.58 266.89,834.38 269.03,830.65 271.17,815.7 273.31,815.7 275.44,801.69 277.58,795.52 279.72,795.15 281.86,802.25 284,798.88 286.13,800.19 288.27,797.95 290.41,795.52 292.55,793.65 294.68,794.59 296.82,802.06 298.96,794.21 301.1,805.42 303.23,813.83 305.37,802.43 307.51,802.62 309.65,813.83 311.78,803.55 313.92,797.95 316.06,797.95 318.2,805.05 320.34,808.23 322.47,807.29 324.61,788.05 326.75,795.71 328.89,795.15 331.02,800.38 333.16,783.56 335.3,795.71 337.44,803.18 339.57,791.97 341.71,794.21 343.85,804.86 345.99,804.49 348.12,806.73 350.26,827.47 352.4,823.73 354.54,806.36 356.68,800.19 358.81,807.29 360.95,807.29 363.09,811.03 365.23,820.93 367.36,818.13 369.5,799.82 371.64,802.62 373.78,803.55 375.91,801.69 378.05,804.49 380.19,815.14 382.33,834.57 384.46,845.41 386.6,828.78 388.74,796.08 390.88,796.45 393.02,788.61 395.15,778.7 397.29,762.82 399.43,778.33 401.57,768.05 403.7,761.51 405.84,767.68 407.98,767.68 410.12,738.53 412.25,738.53 414.39,756.47 416.53,754.6 418.67,766.56 420.8,765.06 422.94,778.7 425.08,770.3 427.22,783 429.35,787.67 431.49,766.56 433.63,766.56 435.77,786.12 437.91,777.34 440.04,779.58 442.18,768 444.32,760.9 446.46,777.15 448.59,767.06 450.73,757.53 452.87,745.58 455.01,728.57 457.14,752.49 459.28,738.48 461.42,738.1 463.56,737.54 465.69,704.84 467.83,720.16 469.97,720.16 472.11,714.75 474.25,725.4 476.38,726.89 478.52,726.89 480.66,738.85 482.8,718.86 484.93,713.25 487.07,716.99 489.21,723.53 491.35,726.33 493.48,730.63 495.62,728.76 497.76,721.1"/>
<g fill="#0000ff"><circle cx="89.47" cy="794.77" r="1.9"/><circle cx="91.61" cy="790.1" r="1.9"/><circle cx="93.75" cy="771.42" r="1.9"/><circle cx="95.88" cy="758.71" r="1.9"/><circle cx="98.02" cy="754.97" r="1.9"/><circle cx="100.16" cy="760.58" r="1.9"/><circle cx="102.3" cy="756.84" r="1.9"/><circle cx="104.43" cy="758.71" r="1.9"/><circle cx="106.57" cy="768.05" r="1.9"/><circle cx="108.71" cy="796.45" r="1.9"/><circle cx="110.85" cy="770.86" r="1.9"/><circle cx="112.98" cy="758.71" r="1.9"/><circle cx="115.12" cy="770.86" r="1.9"/><circle cx="117.26" cy="786.74" r="1.9"/><circle cx="119.4" cy="802.06" r="1.9"/><circle cx="121.53" cy="820.93" r="1.9"/><circle cx="123.67" cy="835.32" r="1.9"/><circle cx="125.81" cy="845.59" r="1.9"/><circle cx="127.95" cy="854" r="1.9"/><circle cx="130.08" cy="828.22" r="1.9"/><circle cx="132.22" cy="824.67" r="1.9"/><circle cx="134.36" cy="833.08" r="1.9"/><circle cx="136.5" cy="855.68" r="1.9"/><circle cx="138.64" cy="816.07" r="1.9"/><circle cx="140.77" cy="823.17" r="1.9"/><circle cx="142.91" cy="818.13" r="1.9"/><circle cx="145.05" cy="822.24" r="1.9"/><circle cx="147.19" cy="823.17" r="1.9"/><circle cx="149.32" cy="798.88" r="1.9"/><circle cx="151.46" cy="783" r="1.9"/><circle cx="153.6" cy="788.61" r="1.9"/><circle cx="155.74" cy="829.15" r="1.9"/><circle cx="157.87" cy="795.33" r="1.9"/><circle cx="160.01" cy="803.55" r="1.9"/><circle cx="162.15" cy="825.98" r="1.9"/><circle cx="164.29" cy="855.5" r="1.9"/><circle cx="166.42" cy="859.98" r="1.9"/><circle cx="168.56" cy="859.05" r="1.9"/><circle cx="170.7" cy="853.44" r="1.9"/><circle cx="172.84" cy="830.65" r="1.9"/><circle cx="174.98" cy="847.46" r="1.9"/><circle cx="177.11" cy="866.52" r="1.9"/><circle cx="179.25" cy="854" r="1.9"/><circle cx="181.39" cy="850.64" r="1.9"/><circle cx="183.53" cy="881" r="1.9"/><circle cx="185.66" cy="867.08" r="1.9"/><circle cx="187.8" cy="857.37" r="1.9"/><circle cx="189.94" cy="835.88" r="1.9"/><circle cx="192.08" cy="824.11" r="1.9"/><circle cx="194.21" cy="815.7" r="1.9"/><circle cx="196.35" cy="814.77" r="1.9"/><circle cx="198.49" cy="836.25" r="1.9"/><circle cx="200.63" cy="834.76" r="1.9"/><circle cx="202.76" cy="828.78" r="1.9"/><circle cx="204.9" cy="827.47" r="1.9"/><circle cx="207.04" cy="835.69" r="1.9"/><circle cx="209.18" cy="836.81" r="1.9"/><circle cx="211.32" cy="827.47" r="1.9"/><circle cx="213.45" cy="836.07" r="1.9"/><circle cx="215.59" cy="848.77" r="1.9"/><circle cx="217.73" cy="850.27" r="1.9"/><circle cx="219.87" cy="838.68" r="1.9"/><circle cx="222" cy="834.38" r="1.9"/><circle cx="224.14" cy="825.04" r="1.9"/><circle cx="226.28" cy="829.71" r="1.9"/><circle cx="228.42" cy="831.21" r="1.9"/><circle cx="230.55" cy="832.89" r="1.9"/><circle cx="232.69" cy="831.58" r="1.9"/><circle cx="234.83" cy="827.47" r="1.9"/><circle cx="236.97" cy="827.28" r="1.9"/><circle cx="239.1" cy="827.84" r="1.9"/><circle cx="241.24" cy="828.78" r="1.9"/><circle cx="243.38" cy="830.09" r="1.9"/><circle cx="245.52" cy="840.18" r="1.9"/><circle cx="247.66" cy="848.4" r="1.9"/><circle cx="249.79" cy="850.27" r="1.9"/><circle cx="251.93" cy="843.73" r="1.9"/><circle cx="254.07" cy="840.55" r="1.9"/><circle cx="256.21" cy="833.82" r="1.9"/><circle cx="258.34" cy="825.98" r="1.9"/><circle cx="260.48" cy="827.84" r="1.9"/><circle cx="262.62" cy="835.32" r="1.9"/><circle cx="264.76" cy="831.58" r="1.9"/><circle cx="266.89" cy="834.38" r="1.9"/><circle cx="269.03" cy="830.65" r="1.9"/><circle cx="271.17" cy="815.7" r="1.9"/><circle cx="273.31" cy="815.7" r="1.9"/><circle cx="275.44" cy="801.69" r="1.9"/><circle cx="277.58" cy="795.52" r="1.9"/><circle cx="279.72" cy="795.15" r="1.9"/><circle cx="281.86" cy="802.25" r="1.9"/><circle cx="284" cy="798.88" r="1.9"/><circle cx="286.13" cy="800.19" r="1.9"/><circle cx="288.27" cy="797.95" r="1.9"/><circle cx="290.41" cy="795.52" r="1.9"/><circle cx="292.55" cy="793.65" r="1.9"/><circle cx="294.68" cy="794.59" r="1.9"/><circle cx="296.82" cy="802.06" r="1.9"/><circle cx="298.96" cy="794.21" r="1.9"/><circle cx="301.1" cy="805.42" r="1.9"/><circle cx="303.23" cy="813.83" r="1.9"/><circle cx="305.37" cy="802.43" r="1.9"/><circle cx="307.51" cy="802.62" r="1.9"/><circle cx="309.65" cy="813.83" r="1.9"/><circle cx="311.78" cy="803.55" r="1.9"/><circle cx="313.92" cy="797.95" r="1.9"/><circle cx="316.06" cy="797.95" r="1.9"/><circle cx="318.2" cy="805.05" r="1.9"/><circle cx="320.34" cy="808.23" r="1.9"/><circle cx="322.47" cy="807.29" r="1.9"/><circle cx="324.61" cy="788.05" r="1.9"/><circle cx="326.75" cy="795.71" r="1.9"/><circle cx="328.89" cy="795.15" r="1.9"/><circle cx="331.02" cy="800.38" r="1.9"/><circle cx="333.16" cy="783.56" r="1.9"/><circle cx="335.3" cy="795.71" r="1.9"/><circle cx="337.44" cy="803.18" r="1.9"/><circle cx="339.57" cy="791.97" r="1.9"/><circle cx="341.71" cy="794.21" r="1.9"/><circle cx="343.85" cy="804.86" r="1.9"/><circle cx="345.99" cy="804.49" r="1.9"/><circle cx="348.12" cy="806.73" r="1.9"/><circle cx="350.26" cy="827.47" r="1.9"/><circle cx="352.4" cy="823.73" r="1.9"/><circle cx="354.54" cy="806.36" r="1.9"/><circle cx="356.68" cy="800.19" r="1.9"/><circle cx="358.81" cy="807.29" r="1.9"/><circle cx="360.95" cy="807.29" r="1.9"/><circle cx="363.09" cy="811.03" r="1.9"/><circle cx="365.23" cy="820.93" r="1.9"/><circle cx="367.36" cy="818.13" r="1.9"/><circle cx="369.5" cy="799.82" r="1.9"/><circle cx="371.64" cy="802.62" r="1.9"/><circle cx="373.78" cy="803.55" r="1.9"/><circle cx="375.91" cy="801.69" r="1.9"/><circle cx="378.05" cy="804.49" r="1.9"/><circle cx="380.19" cy="815.14" r="1.9"/><circle cx="382.33" cy="834.57" r="1.9"/><circle cx="384.46" cy="845.41" r="1.9"/><circle cx="386.6" cy="828.78" r="1.9"/><circle cx="388.74" cy="796.08" r="1.9"/><circle cx="390.88" cy="796.45" r="1.9"/><circle cx="393.02" cy="788.61" r="1.9"/><circle cx="395.15" cy="778.7" r="1.9"/><circle cx="397.29" cy="762.82" r="1.9"/><circle cx="399.43" cy="778.33" r="1.9"/><circle cx="401.57" cy="768.05" r="1.9"/><circle cx="403.7" cy="761.51" r="1.9"/><circle cx="405.84" cy="767.68" r="1.9"/><circle cx="407.98" cy="767.68" r="1.9"/><circle cx="410.12" cy="738.53" r="1.9"/><circle cx="412.25" cy="738.53" r="1.9"/><circle cx="414.39" cy="756.47" r="1.9"/><circle cx="416.53" cy="754.6" r="1.9"/><circle cx="418.67" cy="766.56" r="1.9"/><circle cx="420.8" cy="765.06" r="1.9"/><circle cx="422.94" cy="778.7" r="1.9"/><circle cx="425.08" cy="770.3" r="1.9"/><circle cx="427.22" cy="783" r="1.9"/><circle cx="429.35" cy="787.67" r="1.9"/><circle cx="431.49" cy="766.56" r="1.9"/><circle cx="433.63" cy="766.56" r="1.9"/><circle cx="435.77" cy="786.12" r="1.9"/><circle cx="437.91" cy="777.34" r="1.9"/><circle cx="440.04" cy="779.58" r="1.9"/><circle cx="442.18" cy="768" r="1.9"/><circle cx="444.32" cy="760.9" r="1.9"/><circle cx="446.46" cy="777.15" r="1.9"/><circle cx="448.59" cy="767.06" r="1.9"/><circle cx="450.73" cy="757.53" r="1.9"/><circle cx="452.87" cy="745.58" r="1.9"/><circle cx="455.01" cy="728.57" r="1.9"/><circle cx="457.14" cy="752.49" r="1.9"/><circle cx="459.28" cy="738.48" r="1.9"/><circle cx="461.42" cy="738.1" r="1.9"/><circle cx="463.56" cy="737.54" r="1.9"/><circle cx="465.69" cy="704.84" r="1.9"/><circle cx="467.83" cy="720.16" r="1.9"/><circle cx="469.97" cy="720.16" r="1.9"/><circle cx="472.11" cy="714.75" r="1.9"/><circle cx="474.25" cy="725.4" r="1.9"/><circle cx="476.38" cy="726.89" r="1.9"/><circle cx="478.52" cy="726.89" r="1.9"/><circle cx="480.66" cy="738.85" r="1.9"/><circle cx="482.8" cy="718.86" r="1.9"/><circle cx="484.93" cy="713.25" r="1.9"/><circle cx="487.07" cy="716.99" r="1.9"/><circle cx="489.21" cy="723.53" r="1.9"/><circle cx="491.35" cy="726.33" r="1.9"/><circle cx="493.48" cy="730.63" r="1.9"/><circle cx="495.62" cy="728.76" r="1.9"/><circle cx="497.76" cy="721.1" r="1.9"/></g>
<line x1="152.51" y1="787.3" x2="280.86" y2="787.3" stroke="#00ff00" stroke-width="4"/>
<line x1="152.51" y1="823.7" x2="280.86" y2="823.7" stroke="#ff8000" stroke-width="4"/>
<line x1="280.86" y1="820.7" x2="409.2" y2="820.7" stroke="#00ff00" stroke-width="4"/>
<line x1="280.86" y1="809.9" x2="409.2" y2="809.9" stroke="#ff8000" stroke-width="4"/>
<line x1="409.2" y1="811" x2="537.55" y2="811" stroke="#000" stroke-width="2.05" stroke-dasharray="17.6 10.85"/>
<line x1="409.2" y1="792.7" x2="537.55" y2="792.7" stroke="#00ff00" stroke-width="4"/>
<line x1="409.2" y1="724.7" x2="537.55" y2="724.7" stroke="#ff8000" stroke-width="4"/>
<line x1="537.55" y1="659.9" x2="665.9" y2="659.9" stroke="#000" stroke-width="1.8" stroke-dasharray="14.2 5.5 3.5 5.1"/>
<line x1="537.55" y1="672" x2="665.9" y2="672" stroke="#00ff00" stroke-width="4"/>
</g>
<rect x="89.7" y="642.7" width="198.8" height="130.5" fill="#fff" stroke="#202020" stroke-width="1.25"/>
<line x1="97.3" y1="656.2" x2="151.1" y2="656.2" stroke="#ff0000" stroke-width="1"/><circle cx="124.2" cy="656.2" r="1.9" fill="#ff0000"/>
<line x1="97.3" y1="676.9" x2="151.1" y2="676.9" stroke="#0000ff" stroke-width="1"/><circle cx="124.2" cy="676.9" r="1.9" fill="#0000ff"/>
<line x1="97.3" y1="697.6" x2="151.1" y2="697.6" stroke="#000" stroke-width="1.8" stroke-dasharray="14.2 5.5 3.5 5.1"/>
<line x1="97.3" y1="718.4" x2="151.1" y2="718.4" stroke="#000" stroke-width="2.05" stroke-dasharray="17.6 10.85"/>
<line x1="97.3" y1="739.1" x2="151.1" y2="739.1" stroke="#00ff00" stroke-width="4"/>
<line x1="97.3" y1="759.8" x2="151.1" y2="759.8" stroke="#ff8000" stroke-width="4"/>
<text x="155.5" y="662.8" font-size="16.1" fill="#000">obs (QD)</text>
<text x="155.5" y="683.5" font-size="16.1" fill="#000">obs (D)</text>
<text x="155.5" y="704.2" font-size="16.1" fill="#000">IGRF13 CU/NCEI</text>
<text x="155.5" y="725" font-size="16.1" fill="#000">IGRF12 CU/NCEI</text>
<text x="155.5" y="745.7" font-size="16.1" fill="#000">IGRF (10-13)</text>
<text x="155.5" y="766.4" font-size="16.1" fill="#000">DGRF</text>
<text transform="translate(151.91,906.9) scale(1.07,1)" font-size="16.7" text-anchor="middle" fill="#111111">2005</text>
<text transform="translate(280.26,906.9) scale(1.07,1)" font-size="16.7" text-anchor="middle" fill="#111111">2010</text>
<text transform="translate(408.6,906.9) scale(1.07,1)" font-size="16.7" text-anchor="middle" fill="#111111">2015</text>
<text transform="translate(536.95,906.9) scale(1.07,1)" font-size="16.7" text-anchor="middle" fill="#111111">2020</text>
<text transform="translate(665.3,906.9) scale(1.07,1)" font-size="16.7" text-anchor="middle" fill="#111111">2025</text>
<text transform="translate(67.2,638) scale(1.07,1)" font-size="16.7" text-anchor="end" fill="#111111">80</text>
<text transform="translate(67.2,677.6) scale(1.07,1)" font-size="16.7" text-anchor="end" fill="#111111">70</text>
<text transform="translate(67.2,717.2) scale(1.07,1)" font-size="16.7" text-anchor="end" fill="#111111">60</text>
<text transform="translate(67.2,756.8) scale(1.07,1)" font-size="16.7" text-anchor="end" fill="#111111">50</text>
<text transform="translate(67.2,796.4) scale(1.07,1)" font-size="16.7" text-anchor="end" fill="#111111">40</text>
<text transform="translate(67.2,836) scale(1.07,1)" font-size="16.7" text-anchor="end" fill="#111111">30</text>
<text transform="translate(67.2,875.6) scale(1.07,1)" font-size="16.7" text-anchor="end" fill="#111111">20</text>
<text transform="translate(30.6,748.0) rotate(-90) scale(1.052,1)" font-size="24.0" text-anchor="middle" fill="#111111">BEL dZ/dt (nT/yr)</text>
</g>
</svg>
</body></html>
